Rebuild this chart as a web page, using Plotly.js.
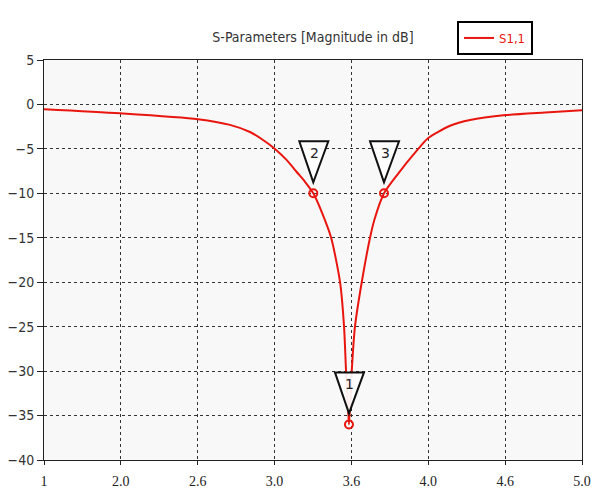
<!DOCTYPE html>
<html>
<head>
<meta charset="utf-8">
<script src="https://cdn.plot.ly/plotly-3.0.1.min.js"></script>
<style>html,body{margin:0;padding:0;background:#fff;}</style>
</head>
<body>
<div id="chart" style="width:611px;height:488px;"></div>
<script>
// Frequency (axis units) and S1,1 magnitude (dB)
const freq = [1.5, 1.994, 2.502, 2.710, 2.840, 2.925, 3.003, 3.081, 3.144, 3.198, 3.252, 3.309, 3.368, 3.426, 3.452, 3.465, 3.475, 3.484, 3.494, 3.502, 3.523, 3.567, 3.621, 3.649, 3.712, 3.803, 3.925, 3.998, 4.142, 4.272, 4.504, 4.760, 5.0];
const s11 = [-0.54, -1.0, -1.66, -2.3, -3.1, -4.0, -5.0, -6.3, -7.6, -8.7, -10.0, -12.2, -15.0, -20.0, -25.0, -30.0, -33.0, -36.0, -33.0, -30.0, -25.0, -20.0, -15.0, -13.0, -10.0, -7.8, -5.2, -3.8, -2.4, -1.75, -1.2, -0.9, -0.65];

// Markers
const markerLabels = ['1', '2', '3'];
const markerX = [3.484, 3.252, 3.712];
const markerY = [-36.0, -10.0, -10.0];

// Axis ticks
const xTickVals = [1.5, 2.0, 2.5, 3.0, 3.5, 4.0, 4.5, 5.0];
const xTickText = ['1', '2.0', '2.6', '3.0', '3.6', '4.0', '4.6', '5.0'];
const yTickVals = [5, 0, -5, -10, -15, -20, -25, -30, -35, -40];

const red = '#e8160f';

const traces = [
  {
    x: freq, y: s11, type: 'scatter', mode: 'lines', name: 'S1,1',
    line: {color: red, width: 2, shape: 'spline', smoothing: 0.7}
  },
  {
    x: markerX, y: markerY, type: 'scatter', mode: 'markers', showlegend: false,
    marker: {symbol: 'circle-open', size: 8, color: red, line: {width: 2, color: red}},
    hoverinfo: 'skip'
  }
];

const shapes = markerX.map((mx, i) => ({
  type: 'path', xref: 'x', yref: 'y',
  xsizemode: 'pixel', ysizemode: 'pixel',
  xanchor: mx, yanchor: markerY[i],
  path: 'M 0 11 L -14 52 L 15 52 Z',
  line: {color: '#111', width: 2},
  fillcolor: 'rgba(255,255,255,0.92)', layer: 'above'
}));

const annotations = markerX.map((mx, i) => ({
  x: mx, y: markerY[i], xref: 'x', yref: 'y',
  text: markerLabels[i], showarrow: false, yshift: 40, xshift: 1,
  font: {family: 'DejaVu Sans', size: 14, color: '#222'}
}));

const layout = {
  width: 611, height: 488,
  margin: {l: 44, r: 29, t: 60, b: 28},
  paper_bgcolor: '#ffffff',
  plot_bgcolor: '#f8f8f8',
  title: {
    text: 'S-Parameters [Magnitude in dB]',
    font: {family: 'DejaVu Sans Condensed', size: 14, color: '#333'},
    x: 0.5, xref: 'paper', xanchor: 'center',
    y: 1 - 37 / 488, yref: 'container', yanchor: 'middle'
  },
  showlegend: true,
  legend: {
    x: 0.7677, y: 1.0975, xref: 'paper', yref: 'paper', xanchor: 'left', yanchor: 'top',
    bgcolor: '#ffffff', bordercolor: '#000', borderwidth: 2,
    font: {family: 'DejaVu Sans Condensed', size: 13, color: red},
    itemwidth: 30
  },
  xaxis: {
    range: [1.5, 5.0], tickvals: xTickVals, ticktext: xTickText,
    showgrid: true, gridcolor: '#333', griddash: '3px,3px', gridwidth: 1,
    showline: true, linecolor: '#222', linewidth: 1, mirror: true,
    ticks: 'outside', ticklen: 4, tickcolor: '#222',
    zeroline: false, ticklabelstandoff: 4,
    tickfont: {family: 'Liberation Serif', size: 14, color: '#222'}
  },
  yaxis: {
    range: [-40, 5], tickvals: yTickVals,
    showgrid: true, gridcolor: '#333', griddash: '3px,3px', gridwidth: 1,
    showline: true, linecolor: '#222', linewidth: 1, mirror: true,
    ticks: 'outside', ticklen: 6, tickcolor: '#222',
    zeroline: false,
    tickfont: {family: 'DejaVu Sans Condensed', size: 14, color: '#333'}
  },
  shapes: shapes,
  annotations: annotations
};

Plotly.newPlot('chart', traces, layout, {displayModeBar: false, staticPlot: true});
</script>
</body>
</html>
